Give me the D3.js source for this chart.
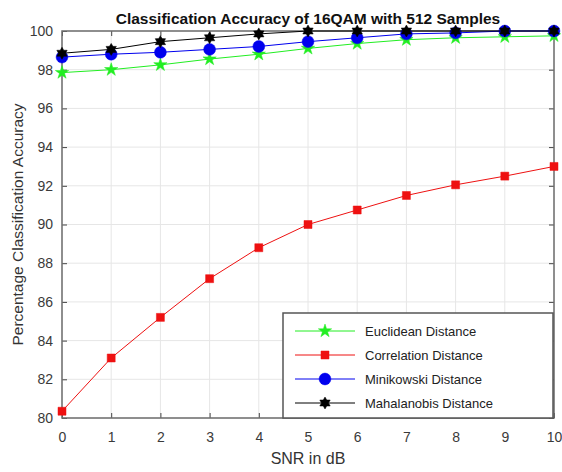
<!DOCTYPE html>
<html>
<head>
<meta charset="utf-8">
<script src="https://cdn.jsdelivr.net/npm/d3@7"></script>
<style>
  body { margin: 0; background: #fff; }
  svg { font-family: "Liberation Sans", Arial, sans-serif; }
</style>
</head>
<body>
<svg width="562" height="472"></svg>
<script>
// SNR values (dB)
const snr = [0, 1, 2, 3, 4, 5, 6, 7, 8, 9, 10];
const euclidean   = [97.85, 98.0, 98.25, 98.55, 98.8, 99.1, 99.35, 99.55, 99.65, 99.7, 99.75];
const correlation = [80.35, 83.1, 85.2, 87.2, 88.8, 90.0, 90.75, 91.5, 92.05, 92.5, 93.0];
const minikowski  = [98.65, 98.8, 98.9, 99.05, 99.2, 99.45, 99.65, 99.85, 99.9, 100, 100];
const mahalanobis = [98.85, 99.05, 99.45, 99.65, 99.85, 100, 100, 100, 100, 100, 100];
const yTicks = [80, 82, 84, 86, 88, 90, 92, 94, 96, 98, 100];

const seriesNames = ["Euclidean Distance", "Correlation Distance", "Minikowski Distance", "Mahalanobis Distance"];
const seriesData = [euclidean, correlation, minikowski, mahalanobis];
const seriesColor = ["#22ee22", "#ee1111", "#0000ee", "#000000"];
const seriesMarker = ["star", "square", "circle", "hex"];

let svg = d3.select("svg");

// область графика
const area = { left: 62, right: 554, top: 31, bottom: 418 };

let scX = d3.scaleLinear().domain([0, 10]).range([area.left, area.right]);
let scY = d3.scaleLinear().domain([80, 100]).range([area.bottom, area.top]);

// сетка
svg.append("g")
    .selectAll("line")
    .data(snr)
    .enter()
    .append("line")
    .attr("x1", d => scX(d)).attr("x2", d => scX(d))
    .attr("y1", area.top).attr("y2", area.bottom)
    .style("stroke", "#e6e6e6");
svg.append("g")
    .selectAll("line")
    .data(yTicks)
    .enter()
    .append("line")
    .attr("y1", d => scY(d)).attr("y2", d => scY(d))
    .attr("x1", area.left).attr("x2", area.right)
    .style("stroke", "#e6e6e6");

// оси (тики внутрь)
function styleAxis(g) {
    g.select(".domain").remove();
    g.selectAll(".tick line").style("stroke", "#444").style("stroke-width", 1);
    g.selectAll(".tick text").style("fill", "#3a3a3a").style("font-size", "14px")
        .style("font-family", "'Liberation Sans', Arial, sans-serif");
}
svg.append("g")
    .attr("transform", `translate(0, ${area.bottom})`)
    .call(d3.axisBottom(scX).tickValues(snr).tickFormat(d3.format("d")).tickSizeInner(-5).tickPadding(14))
    .call(styleAxis);
svg.append("g")
    .attr("transform", `translate(0, ${area.top})`)
    .call(d3.axisTop(scX).tickValues(snr).tickFormat("").tickSizeInner(-5))
    .call(styleAxis);
svg.append("g")
    .attr("transform", `translate(${area.left}, 0)`)
    .call(d3.axisLeft(scY).tickValues(yTicks).tickFormat(d3.format("d")).tickSizeInner(-5).tickPadding(9))
    .call(styleAxis);
svg.append("g")
    .attr("transform", `translate(${area.right}, 0)`)
    .call(d3.axisRight(scY).tickValues(yTicks).tickFormat("").tickSizeInner(-5))
    .call(styleAxis);

// рамка
svg.append("rect")
    .attr("x", area.left).attr("y", area.top)
    .attr("width", area.right - area.left).attr("height", area.bottom - area.top)
    .style("fill", "none").style("stroke", "#6e6e6e").style("stroke-width", 1.5);

// маркеры
function markerPath(type) {
    if (type === "star") return d3.symbol(d3.symbolStar, 55)();
    if (type === "square") return d3.symbol(d3.symbolSquare, 64)();
    if (type === "circle") return d3.symbol(d3.symbolCircle, 110)();
    // шестиконечная звезда
    let pts = [];
    for (let i = 0; i < 12; i++) {
        const r = i % 2 === 0 ? 6 : 3.5;
        const a = Math.PI / 2 + i * Math.PI / 6;
        pts.push([r * Math.cos(a), -r * Math.sin(a)]);
    }
    return "M" + pts.map(p => p.join(",")).join("L") + "Z";
}

const line = d3.line().x((d, i) => scX(snr[i])).y(d => scY(d));

// рисуем в порядке: красный, зелёный, синий, чёрный
[1, 0, 2, 3].forEach(k => {
    svg.append("path")
        .datum(seriesData[k])
        .attr("d", line)
        .style("fill", "none")
        .style("stroke", seriesColor[k])
        .style("stroke-width", 1);
    svg.append("g")
        .selectAll("path")
        .data(seriesData[k])
        .enter()
        .append("path")
        .attr("d", markerPath(seriesMarker[k]))
        .attr("transform", (d, i) => `translate(${scX(snr[i])}, ${scY(d)})`)
        .style("fill", seriesColor[k])
        .style("stroke", seriesColor[k])
        .style("stroke-width", 0.5);
});

// легенда
const lg = { x: 283, y: 313, w: 270, h: 105 };
svg.append("rect")
    .attr("x", lg.x).attr("y", lg.y).attr("width", lg.w).attr("height", lg.h)
    .style("fill", "#fff").style("stroke", "#555").style("stroke-width", 1.5);
seriesNames.forEach((name, k) => {
    const yy = lg.y + 18 + k * 24;
    svg.append("line")
        .attr("x1", lg.x + 12).attr("x2", lg.x + 72)
        .attr("y1", yy).attr("y2", yy)
        .style("stroke", seriesColor[k]).style("stroke-width", 1);
    svg.append("path")
        .attr("d", markerPath(seriesMarker[k]))
        .attr("transform", `translate(${lg.x + 42}, ${yy})`)
        .style("fill", seriesColor[k]).style("stroke", seriesColor[k]).style("stroke-width", 0.5);
    svg.append("text")
        .attr("x", lg.x + 82).attr("y", yy + 4.5)
        .style("font-size", "13px").style("fill", "#222")
        .text(name);
});

// подписи
svg.append("text")
    .attr("x", 308).attr("y", 24)
    .attr("text-anchor", "middle")
    .style("font-size", "15.5px").style("font-weight", "bold").style("fill", "#111")
    .text("Classification Accuracy of 16QAM with 512 Samples");
svg.append("text")
    .attr("x", (area.left + area.right) / 2).attr("y", 464)
    .attr("text-anchor", "middle")
    .style("font-size", "16px").style("fill", "#333")
    .text("SNR in dB");
svg.append("text")
    .attr("transform", `translate(23, ${(area.top + area.bottom) / 2}) rotate(-90)`)
    .attr("text-anchor", "middle")
    .style("font-size", "15.5px").style("fill", "#333")
    .text("Percentage Classification Accuracy");
</script>
</body>
</html>
